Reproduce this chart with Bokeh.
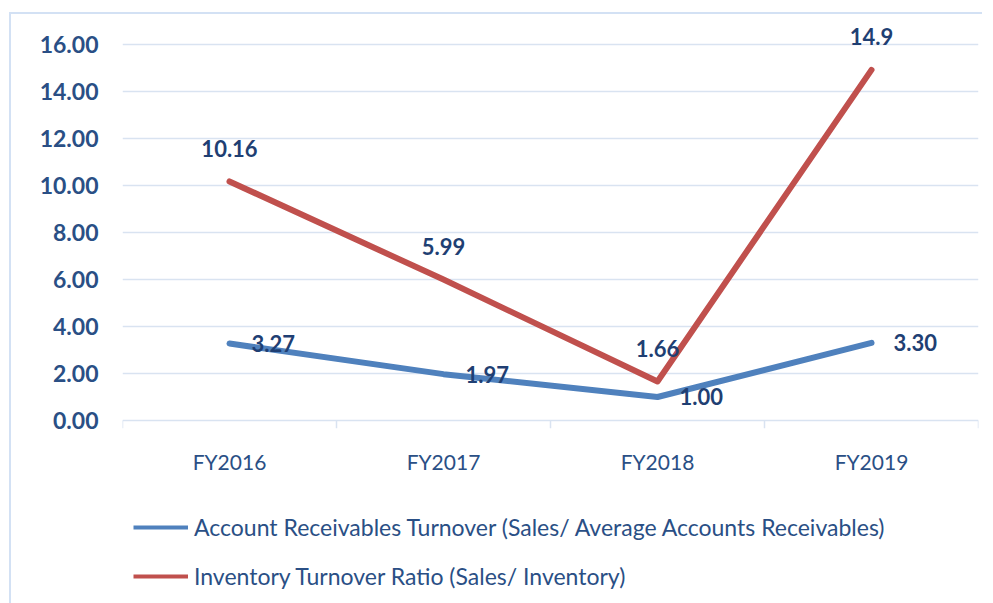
from bokeh.plotting import figure
from bokeh.layouts import column
from bokeh.models import FactorRange, Range1d, Legend, LegendItem, FixedTicker, ColumnDataSource
from bokeh.transform import dodge
from bokeh.core.properties import value
from bokeh.embed import file_html
from bokeh.resources import INLINE

years = ["FY2016", "FY2017", "FY2018", "FY2019"]
receivables_turnover = [3.27, 1.97, 1.00, 3.30]
inventory_turnover = [10.16, 5.99, 1.66, 14.9]
receivables_labels = ["3.27", "1.97", "1.00", "3.30"]
inventory_labels = ["10.16", "5.99", "1.66", "14.9"]
y_ticks = [0, 2, 4, 6, 8, 10, 12, 14, 16]
series_names = ["Account Receivables Turnover (Sales/ Average Accounts Receivables)",
                "Inventory Turnover Ratio (Sales/ Inventory)"]

BLUE = "#4f81bd"
RED = "#c0504d"
TEXT = "#2a4f85"
LABEL = "#1f3f73"
GRID = "#d9e3f1"
BORDER = "#d3e1f4"
FONT = "Lato"
TICK_DEPTH = 0.34  # y-units below zero for the category separator ticks

p = figure(frame_width=856, frame_height=408, x_range=FactorRange(factors=years),
           y_range=Range1d(-TICK_DEPTH, 17), output_backend="svg", toolbar_location=None,
           min_border_left=111, min_border_right=4, min_border_top=6,
           min_border_bottom=66)
p.outline_line_color = None
p.background_fill_color = "white"
p.border_fill_color = "white"

p.xgrid.grid_line_color = None
p.ygrid.grid_line_color = GRID
p.ygrid.grid_line_width = 1.5
p.yaxis.ticker = FixedTicker(ticks=y_ticks)
p.yaxis.major_label_overrides = {t: f"{t:.2f}" for t in y_ticks}
p.yaxis.axis_line_color = None
p.yaxis.major_tick_line_color = None
p.yaxis.minor_tick_line_color = None
p.yaxis.major_label_standoff = 18
p.yaxis.major_label_text_font = FONT
p.yaxis.major_label_text_font_style = "bold"
p.yaxis.major_label_text_font_size = "23px"
p.yaxis.major_label_text_color = TEXT

p.xaxis.axis_line_color = None
p.xaxis.major_tick_line_color = None
p.xaxis.major_label_standoff = 14
p.xaxis.major_label_text_font = FONT
p.xaxis.major_label_text_font_size = "21px"
p.xaxis.major_label_text_color = TEXT

# category separator ticks below the zero line
left_edges = ColumnDataSource(dict(x=years, y0=[0] * len(years), y1=[-TICK_DEPTH] * len(years)))
p.segment(x0=dodge("x", -0.5, range=p.x_range), x1=dodge("x", -0.5, range=p.x_range),
          y0="y0", y1="y1", source=left_edges, line_color=GRID, line_width=1.5)
right_edge = ColumnDataSource(dict(x=[years[-1]], y0=[0], y1=[-TICK_DEPTH]))
p.segment(x0=dodge("x", 0.5, range=p.x_range), x1=dodge("x", 0.5, range=p.x_range),
          y0="y0", y1="y1", source=right_edge, line_color=GRID, line_width=1.5)

p.line(years, receivables_turnover, line_color=BLUE, line_width=6, line_cap="round", line_join="round")
p.line(years, inventory_turnover, line_color=RED, line_width=6, line_cap="round", line_join="round")

p.text(years, receivables_turnover, text=receivables_labels, x_offset=22,
       text_align="left", text_baseline="middle", text_font=value(FONT),
       text_font_style="bold", text_font_size="22px", text_color=LABEL)
p.text(years, inventory_turnover, text=inventory_labels, y_offset=-33,
       text_align="center", text_baseline="middle", text_font=value(FONT),
       text_font_style="bold", text_font_size="22px", text_color=LABEL)

# legend strip below the chart (series drawn out of view, used as legend keys)
lg = figure(width=971, height=109, output_backend="svg", toolbar_location=None,
            x_range=p.x_range, y_range=Range1d(100, 101),
            min_border_left=0, min_border_right=0, min_border_top=0, min_border_bottom=0)
lg.axis.visible = False
lg.grid.visible = False
lg.outline_line_color = None
lg.border_fill_color = "white"
k1 = lg.line(years, receivables_turnover, line_color=BLUE, line_width=4)
k2 = lg.line(years, inventory_turnover, line_color=RED, line_width=4)

legend = Legend(items=[LegendItem(label=series_names[0], renderers=[k1]),
                       LegendItem(label=series_names[1], renderers=[k2])],
                location=(11, 13), orientation="vertical")
legend.border_line_color = None
legend.background_fill_alpha = 0
legend.glyph_width = 55
legend.glyph_height = 24
legend.label_height = 24
legend.spacing = 21
legend.label_standoff = 6
legend.padding = 0
legend.margin = 0
legend.label_text_font = FONT
legend.label_text_font_size = "23px"
legend.label_text_color = TEXT
legend.label_text_baseline = "middle"
lg.add_layout(legend)

layout = column(p, lg, spacing=0)
layout.styles = {"margin-left": "9px", "margin-top": "12px",
                 "border-left": f"2px solid {BORDER}", "border-top": f"2px solid {BORDER}"}

open("out.html", "w").write(file_html(layout, INLINE))
